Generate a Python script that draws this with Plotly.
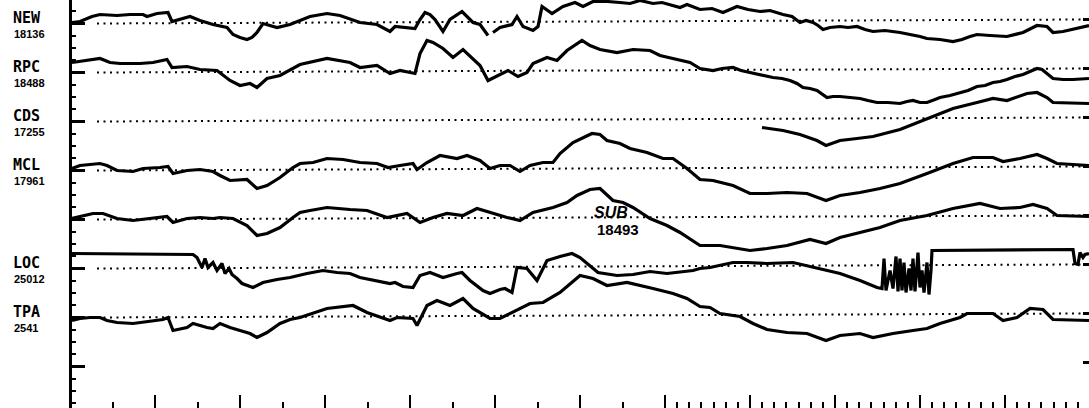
import plotly.graph_objects as go

W, H = 1089, 408
AXIS_X = 72

STATIONS = ["NEW", "RPC", "CDS", "MCL", "SUB", "LOC", "TPA"]
CODES = ["18136", "18488", "17255", "17961", "18493", "25012", "2541"]
N_SLOTS = 8          # 7 stations + one empty slot at bottom
BASE0 = 23.5
SLOT = 49.0

# ---- trace data: time (x) and deflection from baseline (positive = up) ----
new_t = [72,80,92,100,117,130,143,147,157,168,172,180,190,200,213,227,233,240,247,252,257,263,270,277,290,300,310,327,340,360,377,390,395,415,420,425,430,435,443,450,462,473,480,488,490,493,500,512,517,523,533,538,542,552,563,575,583,593,
         607,620,630,640,653,662,670,680,687,700,712,723,737,748,760,770,783,792,800,806,813,818,823,830,840,848,857,865,873,885,900,912,920,927,940,953,962,970,977,990,1007,1023,1037,1047,1053,1063,1073,1089]
new_a = [1,2,7,9,8,9,9,7,10,11,2,4,7,3,-1,-4,-11,-14,-16,-14,-9,0,-2,-4,-1,3,7,10,8,1,-1,-8,-3,-5,4,11,9,4,-8,4,12,1,-1,-12,None,-9,-4,-1,7,-3,-7,-3,17,10,17,21,17,22,
         22,21,20,23,20,21,19,16,19,14,15,11,17,14,12,13,9,7,1,3,1,-2,-6,-4,-3,-4,-3,-6,-8,-7,-9,-11,-13,-15,-16,-18,-16,-13,-11,-12,-13,-9,-2,-3,-9,-8,-6,-2]

rpc_t = [72,87,100,110,120,140,153,167,172,187,200,217,230,240,250,257,267,280,293,300,327,350,360,377,390,400,415,420,427,433,443,453,463,473,480,488,500,508,518,527,533,547,557,567,582,590,600,617,633,650,660,677,
         690,700,706,713,722,733,741,750,762,773,782,790,797,803,810,817,827,833,840,850,860,868,877,888,900,907,913,920,927,935,940,950,960,968,977,985,993,1000,1007,1015,1023,1030,1037,1042,1047,1053,1063,1073,1089]
rpc_a = [10,12,14,10,9,9,10,13,5,6,3,2,-8,-13,-11,-15,-6,-3,4,8,14,10,5,7,-1,2,-1,19,32,30,24,15,23,14,7,-8,-2,2,-4,0,9,15,12,22,32,27,23,20,23,22,17,13,
         10,4,3,2,4,5,2,0,-2,-5,-6,-8,-11,-15,-16,-18,-25,-24,-24,-25,-26,-28,-30,-30,-31,-29,-28,-30,-30,-27,-25,-23,-20,-18,-14,-13,-10,-9,-7,-4,-2,1,4,3,-1,-6,-7,-7,-6]

cds_t = [762,783,800,817,826,840,857,873,900,927,953,977,993,1007,1027,1037,1047,1053,1073,1089]
cds_a = [-6,-9,-13,-19,-24,-19,-17,-15,-8,3,13,19,23,21,28,29,24,19,18,18]

mcl_t = [72,80,90,100,107,117,133,143,160,168,173,187,200,213,220,230,247,257,267,280,293,300,313,327,343,360,377,388,400,413,417,427,440,457,467,480,490,500,510,520,530,543,553,560,573,583,592,600,607,620,630,647,663,673,687,700,713,733,750,767,787,807,826,840,860,880,900,927,953,973,993,1003,1020,1037,1047,1057,1089]
mcl_a = [2,5,6,7,5,0,-1,2,3,4,-3,0,1,-1,-5,-10,-9,-18,-15,-7,3,7,8,12,11,8,7,3,5,7,1,8,15,12,15,10,2,5,5,-1,5,8,8,17,28,33,37,36,30,27,22,18,12,12,2,-9,-10,-15,-23,-23,-22,-23,-30,-25,-22,-18,-13,-3,7,13,13,9,12,16,12,7,5]

sub_t = [72,80,93,103,117,133,150,167,173,187,200,213,220,233,247,257,267,280,293,300,310,327,350,367,387,407,420,433,447,463,477,493,507,520,533,553,567,577,590,600,613,623,633,650,667,680,700,720,733,750,767,787,810,826,840,860,880,900,927,953,980,1000,1020,1033,1047,1057,1089]
sub_a = [1,3,6,6,1,-1,1,3,-3,1,2,1,2,1,-6,-16,-14,-8,2,7,9,12,10,9,2,6,-3,2,6,4,11,6,2,-1,7,12,17,24,30,31,19,17,12,1,-6,-13,-26,-26,-28,-31,-29,-26,-20,-24,-18,-13,-8,-1,4,11,16,11,12,15,11,4,3]

loc_t = [72,193,197,202,205,208,213,217,222,225,229,232,237,242,253,263,277,290,307,323,337,350,360,377,390,395,403,413,420,430,443,457,462,470,483,490,500,505,512,517,527,537,547,560,572,580,590,598,617,633,650,667,693,700,710,733,747,767,793,807,823,840,860,877,882,884,886,890,893,896,898,900,902,904,906,909,911,913,915,918,920,922,924,927,929,931,932,1073,1075,1078,1080,1083,1085,1089]
loc_a = [15,14,11,1,10,1,6,-2,5,-5,0,-6,-10,-15,-19,-14,-11,-9,-5,-2,-4,-5,-9,-12,-15,-14,-18,-19,-7,-4,-9,-5,-4,-12,-22,-25,-21,-20,-24,1,0,-12,8,12,15,11,3,-4,-7,-6,-3,-5,-2,0,1,6,6,5,6,3,-1,-5,-12,-19,-20,10,-22,-2,-20,12,-23,10,-22,6,-24,0,-22,10,-23,16,-19,-2,-24,6,-26,-2,18,19,5,4,16,11,14,15]

tpa_t = [72,80,90,100,107,117,133,150,163,168,173,187,193,207,213,220,230,240,250,257,267,280,290,300,313,327,353,367,390,397,413,417,427,437,450,463,473,490,500,510,530,543,560,580,593,607,627,653,673,687,700,710,720,740,753,767,787,807,826,840,860,873,893,913,927,940,960,967,993,1003,1017,1030,1043,1053,1089]
tpa_a = [-3,-1,0,0,-3,-5,-6,-4,-2,0,-13,-10,-6,-10,-11,-6,-10,-13,-16,-20,-15,-6,-2,0,4,9,12,5,-3,0,-1,-8,12,17,12,19,9,-1,-1,4,14,15,25,42,39,32,35,29,24,19,11,10,4,1,-6,-12,-15,-16,-23,-18,-16,-20,-16,-13,-11,-6,0,4,4,-3,0,9,8,-2,-3]

SERIES = [(new_t, new_a), (rpc_t, rpc_a), (cds_t, cds_a), (mcl_t, mcl_a),
          (sub_t, sub_a), (loc_t, loc_a), (tpa_t, tpa_a)]

# time-axis major ticks
X_MAJOR = [155, 240, 325, 410, 495, 580, 665, 750, 835, 920, 1005]

for t, a in SERIES:
    assert len(t) == len(a), (len(t), len(a))

bases = [BASE0 + SLOT * i for i in range(N_SLOTS)]

fig = go.Figure()

for (t, a), base, name in zip(SERIES, bases, STATIONS):
    y = [None if v is None else base - v for v in a]
    fig.add_trace(go.Scatter(x=t, y=y, mode="lines", name=name,
                             line=dict(color="black", width=3.2),
                             connectgaps=False, showlegend=False,
                             hoverinfo="skip"))

# empty traces so the extra tick-only axes render
for xa, ya in (("x2", "y"), ("x", "y2"), ("x", "y3")):
    fig.add_trace(go.Scatter(x=[None], y=[None], xaxis=xa, yaxis=ya,
                             showlegend=False, hoverinfo="skip"))

# dotted baselines (slightly tilted as on the scanned record)
for b in bases[:7]:
    fig.add_shape(type="line", xref="x", yref="y", x0=97, x1=1085,
                  y0=b, y1=b - 4,
                  line=dict(color="black", width=2, dash="2px,4.5px"),
                  layer="below")

# minor ticks on left axis
y_minor = [bases[0] - 12.25]
for b in bases:
    for k in (1, 2, 3):
        y_minor.append(b + 12.25 * k)

# minor ticks on time axis
x_minor = [113]
for i in range(len(X_MAJOR) - 1):
    a0, a1 = X_MAJOR[i], X_MAJOR[i + 1]
    if a0 < 665:
        x_minor.append((a0 + a1) / 2)
    else:
        for k in range(1, 7):
            x_minor.append(a0 + (a1 - a0) * k / 7)
x_minor += [1005 + 85 * k / 7 for k in range(1, 7)]

NAME_FONT = dict(family="DejaVu Sans Mono, monospace", size=15, color="black")
CODE_FONT = dict(family="Liberation Sans, Arial, sans-serif", size=11, color="black")

annotations = []
for i, (nm, cd) in enumerate(zip(STATIONS, CODES)):
    if nm == "SUB":
        annotations.append(dict(x=611, y=212, xref="x", yref="y", text="<b><i>SUB</i></b>",
                                showarrow=False,
                                font=dict(family="Liberation Sans, Arial", size=16, color="black")))
        annotations.append(dict(x=618, y=229, xref="x", yref="y", text="<b>" + cd + "</b>",
                                showarrow=False,
                                font=dict(family="Liberation Sans, Arial", size=15, color="black")))
        continue
    b = bases[i]
    annotations.append(dict(x=11 / W, y=b - 6, xref="paper", yref="y", xanchor="left",
                            text="<b>" + nm + "</b>", showarrow=False, font=NAME_FONT))
    annotations.append(dict(x=12 / W, y=b + 10, xref="paper", yref="y", xanchor="left",
                            text="<b>" + cd + "</b>", showarrow=False, font=CODE_FONT))

common_x = dict(domain=[AXIS_X / W, 1], range=[AXIS_X, W], showgrid=False, zeroline=False,
                showline=False, showticklabels=False, ticks="inside", tickmode="array",
                tickcolor="black", tickwidth=2)
common_y = dict(range=[H, 0], showgrid=False, zeroline=False, showticklabels=False,
                ticks="inside", tickmode="array", tickcolor="black")

fig.update_layout(
    width=W, height=H,
    margin=dict(l=0, r=0, t=0, b=0),
    paper_bgcolor="white", plot_bgcolor="white",
    showlegend=False,
    xaxis=dict(common_x, tickvals=X_MAJOR, ticklen=13),
    xaxis2=dict(common_x, overlaying="x", anchor="y", side="bottom",
                tickvals=x_minor, ticklen=6),
    yaxis=dict(common_y, showline=True, linecolor="black", linewidth=3,
               tickvals=bases, ticklen=13, tickwidth=2.5),
    yaxis2=dict(common_y, overlaying="y", side="right", anchor="x", showline=False,
                tickvals=[b - 4 for b in bases], ticklen=6, tickwidth=2.5),
    yaxis3=dict(common_y, overlaying="y", side="left", anchor="x", showline=False,
                tickvals=y_minor, ticklen=4, tickwidth=2),
    annotations=annotations,
)

fig.write_html("out.html", config={"displayModeBar": False},
               post_script="document.body.style.margin='0';document.body.style.overflow='hidden';")
